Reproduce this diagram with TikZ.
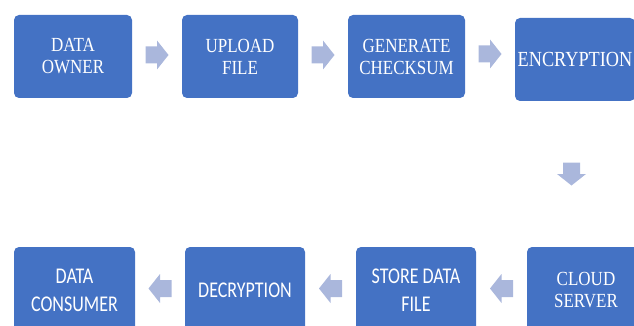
\documentclass[tikz,border=0pt]{standalone}
\usepackage{fontspec}
\setmainfont{Liberation Serif}
\newfontfamily\serifc[FakeStretch=0.85]{Liberation Serif}
\newfontfamily\sansc[FakeStretch=0.8]{Carlito}
\usetikzlibrary{calc}
\definecolor{boxblue}{HTML}{4472C4}
\definecolor{arrowblue}{HTML}{AAB7DC}
\tikzset{
  box/.style={draw=none, fill=boxblue, rounded corners=5pt, text=white,
    align=center, inner sep=0pt, minimum height=83pt},
  sertext/.style={font=\serifc\fontsize{20}{22}\selectfont},
  sertextbig/.style={font=\serifc\fontsize{21.5}{24}\selectfont},
  santext/.style={font=\sansc\fontsize{22.5}{28}\selectfont},
  blockarrow/.pic={
    \fill[arrowblue] (-11.5,-8.5) -- (0,-8.5) -- (0,-14.5) -- (11.5,0)
      -- (0,14.5) -- (0,8.5) -- (-11.5,8.5) -- cycle;
  }
}
\begin{document}
\begin{tikzpicture}[x=1pt,y=-1pt]
\useasboundingbox (0,0) rectangle (634,326);
\node[box, sertext, minimum width=118pt] (b1) at (73,56.5) {DATA\\OWNER};
\node[box, sertext, minimum width=116pt] (b2) at (240,56.5) {UPLOAD\\FILE};
\node[box, sertext, minimum width=117pt] (b3) at (406.5,56.5) {GENERATE\\CHECKSUM};
\node[box, sertextbig, minimum width=120pt] (b4) at (575,59.5) {ENCRYPTION};
\node[box, sertext, minimum width=118pt, minimum height=86pt] (b5) at (586,290) {CLOUD\\SERVER};
\node[box, santext, minimum width=120pt, minimum height=86pt] (b6) at (416,290) {STORE DATA\\FILE};
\node[box, santext, minimum width=120pt, minimum height=86pt] (b7) at (245,290) {DECRYPTION};
\node[box, santext, minimum width=121pt, minimum height=86pt] (b8) at (74.5,290) {DATA\\CONSUMER};
% block arrows between the boxes
\coordinate (m1) at ($(b1.east)!0.5!(b2.west)+(0,-1.5)$);
\coordinate (m2) at ($(b2.east)!0.5!(b3.west)+(0,-1.5)$);
\coordinate (m3) at ($(b3.east)!0.5!(b4.west)+(0,-4)$);
\coordinate (m4) at ($(b4.south)!0.5!(b5.north)+(-9,0)$);
\coordinate (m5) at ($(b5.west)!0.5!(b6.east)+(0,-1.5)$);
\coordinate (m6) at ($(b6.west)!0.5!(b7.east)+(0,-1.5)$);
\coordinate (m7) at ($(b7.west)!0.5!(b8.east)+(0,-1.5)$);
\pic at (m1) {blockarrow};
\pic at (m2) {blockarrow};
\pic at (m3) {blockarrow};
\pic[rotate=-90] at (m4) {blockarrow};
\pic[rotate=180] at (m5) {blockarrow};
\pic[rotate=180] at (m6) {blockarrow};
\pic[rotate=180] at (m7) {blockarrow};
\end{tikzpicture}
\end{document}
